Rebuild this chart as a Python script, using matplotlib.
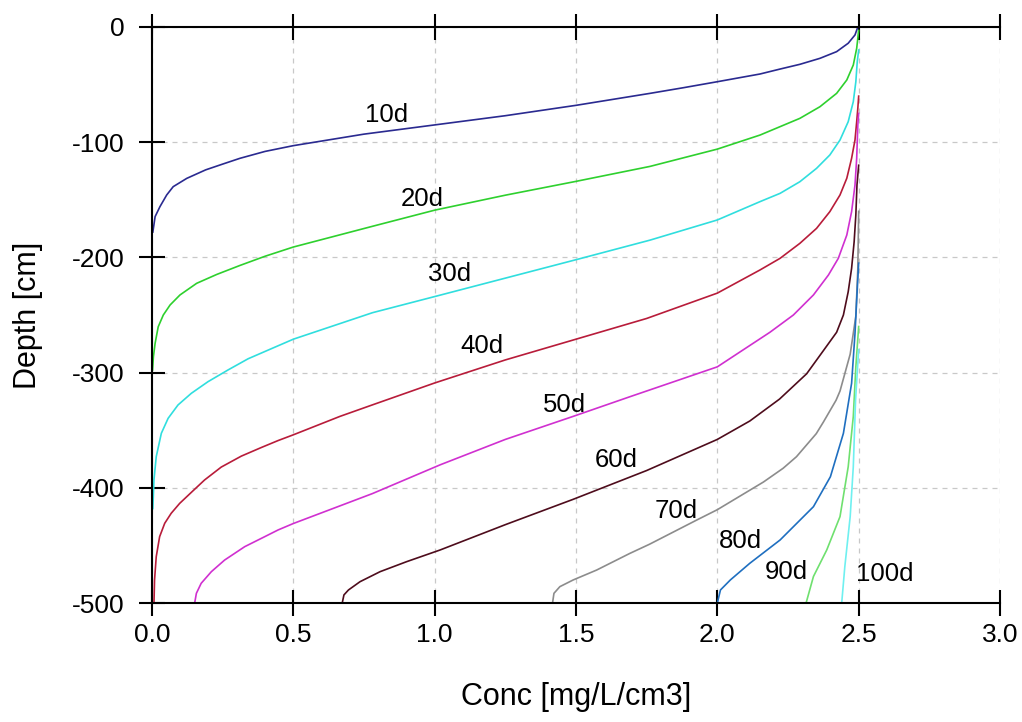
import matplotlib
matplotlib.use("Agg")
import matplotlib.pyplot as plt

plt.rcParams['font.family'] = ['Liberation Sans', 'DejaVu Sans']

# Concentration profiles (conc in mg/L/cm3, depth in cm), listed from the surface downward
conc_10d = [2.497, 2.487, 2.463, 2.422, 2.363, 2.292, 2.222, 2.151, 2.0, 1.88, 1.762, 1.5, 1.25, 1.0,
            0.75, 0.5, 0.4, 0.311, 0.25, 0.19, 0.123, 0.075, 0.052, 0.028, 0.011, 0.003]
depth_10d = [0, -6.9, -14.1, -21.4, -27.2, -32.4, -36.5, -40.8, -47.5, -52.7, -57.6, -68, -77, -85,
             -93, -103, -108, -114, -119, -124, -131.4, -138.6, -145.8, -156, -164.6, -178]

conc_20d = [2.5, 2.497, 2.493, 2.481, 2.458, 2.422, 2.363, 2.292, 2.222, 2.151, 2.0, 1.762, 1.5, 1.25,
            1.0, 0.78, 0.5, 0.4, 0.311, 0.229, 0.158, 0.099, 0.064, 0.04, 0.022, 0.011, 0.005, 0.002]
depth_20d = [-3, -9.8, -18.5, -33, -46, -57.6, -69.2, -79.3, -86.5, -93.8, -106, -121, -134, -146,
             -159, -173, -191, -199, -207, -214.8, -222.5, -232.6, -241.3, -250, -260.2, -274.6, -286.2, -297.7]

conc_30d = [2.5, 2.495, 2.49, 2.481, 2.463, 2.434, 2.398, 2.351, 2.292, 2.222, 2.151, 2.0, 1.762, 1.5,
            1.25, 1.0, 0.78, 0.5, 0.434, 0.34, 0.269, 0.198, 0.139, 0.092, 0.057, 0.033, 0.015, 0.007, 0.003]
depth_30d = [-20, -30.1, -47.5, -64.8, -82.2, -98.1, -111.1, -122.7, -134.3, -144.4, -151.6, -167.5, -185, -202,
             -218, -234, -248, -271, -278, -288, -297.7, -307.9, -318, -328.1, -339.7, -352.7, -373, -393, -418]

conc_40d = [2.5, 2.497, 2.493, 2.487, 2.475, 2.458, 2.434, 2.398, 2.351, 2.292, 2.222, 2.151, 2.0, 1.75,
            1.5, 1.25, 1.0, 0.78, 0.665, 0.5, 0.446, 0.387, 0.316, 0.245, 0.186, 0.139, 0.098, 0.068,
            0.045, 0.027, 0.015, 0.009, 0.007]
depth_40d = [-60, -70.6, -82.2, -98.1, -114, -131.3, -145.8, -160.3, -174.8, -187.8, -200.8, -210.9, -231, -253,
             -271, -289, -309, -328, -338, -354, -359, -365, -372.5, -382, -393.2, -404, -413.5, -422.1,
             -430.8, -442.4, -459.8, -480, -500]

conc_50d = [2.5, 2.497, 2.493, 2.487, 2.475, 2.458, 2.428, 2.393, 2.34, 2.269, 2.186, 2.0, 1.69, 1.49,
            1.25, 1.02, 0.78, 0.5, 0.446, 0.399, 0.328, 0.257, 0.21, 0.174, 0.157, 0.151]
depth_50d = [-75, -85, -114, -137.2, -160.3, -180.6, -200.8, -215.3, -232.6, -250, -265, -295, -321, -338,
             -358, -380, -405, -431, -436.6, -442.4, -451.1, -462.7, -472.8, -482.9, -491.6, -500]

conc_60d = [2.5, 2.494, 2.49, 2.484, 2.475, 2.463, 2.446, 2.422, 2.375, 2.316, 2.22, 2.115, 2.0, 1.75,
            1.49, 1.25, 1.019, 0.901, 0.807, 0.736, 0.695, 0.679, 0.673]
depth_60d = [-120, -137.2, -163.2, -186.4, -209.5, -229.8, -250, -265, -281, -301, -323, -342, -358, -385,
             -410, -432, -454, -464.1, -472.8, -481.5, -488.7, -493, -500]

conc_70d = [2.5, 2.497, 2.49, 2.47, 2.434, 2.42, 2.375, 2.35, 2.28, 2.233, 2.163, 2.0, 1.927, 1.76,
            1.69, 1.573, 1.49, 1.443, 1.422, 1.417]
depth_70d = [-160, -210, -251, -284, -316, -324, -343, -353, -373, -383, -395, -419, -428, -449,
             -457, -471.4, -480, -485.8, -491.6, -500]

conc_80d = [2.5, 2.493, 2.487, 2.475, 2.446, 2.4, 2.34, 2.222, 2.115, 2.046, 2.011, 2.0]
depth_80d = [-205, -237, -266, -309.3, -352.7, -390.4, -416.4, -445.3, -465.5, -480, -488.7, -500]

conc_90d = [2.5, 2.49, 2.481, 2.463, 2.434, 2.387, 2.34, 2.314]
depth_90d = [-260, -295, -338, -381.7, -425, -454, -477, -500]

conc_100d = [2.5, 2.489, 2.481, 2.47, 2.451, 2.44]
depth_100d = [-280, -323.8, -381.7, -425, -468.5, -500]

day_labels = ["10d", "20d", "30d", "40d", "50d", "60d", "70d", "80d", "90d", "100d"]
label_conc = [0.83, 0.955, 1.052, 1.166, 1.461, 1.644, 1.853, 2.082, 2.245, 2.593]
label_depth = [-76, -149, -214, -277, -328, -376, -420, -446, -473, -475]

profiles = [
    (conc_10d, depth_10d, "#2a2a90"),
    (conc_20d, depth_20d, "#2ed02e"),
    (conc_30d, depth_30d, "#30dede"),
    (conc_40d, depth_40d, "#b81c3a"),
    (conc_50d, depth_50d, "#d030d0"),
    (conc_60d, depth_60d, "#4e0c1c"),
    (conc_70d, depth_70d, "#8c8c8c"),
    (conc_80d, depth_80d, "#1f6fc0"),
    (conc_90d, depth_90d, "#6fe06f"),
    (conc_100d, depth_100d, "#6ff0f0"),
]

fig = plt.figure(figsize=(10.22, 7.22), dpi=100)
ax = fig.add_axes([152 / 1022, 1 - 603 / 722, 848 / 1022, 576 / 722])

for conc, depth, color in profiles:
    ax.plot(conc, depth, color=color, linewidth=1.2, solid_joinstyle="round", zorder=3)

for text, x, y in zip(day_labels, label_conc, label_depth):
    ax.text(x, y, text, fontsize=18.5, ha="center", va="center", color="black", zorder=4)

ax.set_xlim(0, 3.0)
ax.set_ylim(-500, 0)
ax.set_xticks([0.0, 0.5, 1.0, 1.5, 2.0, 2.5, 3.0])
ax.set_xticklabels(["0.0", "0.5", "1.0", "1.5", "2.0", "2.5", "3.0"])
ax.set_yticks([0, -100, -200, -300, -400, -500])
ax.set_yticklabels(["0", "-100", "-200", "-300", "-400", "-500"])

ax.grid(True, color="#c8c8c8", linestyle=(0, (4, 4)), linewidth=0.9, zorder=1)
ax.spines["right"].set_visible(False)
for side in ("left", "top", "bottom"):
    ax.spines[side].set_linewidth(1.5)
    ax.spines[side].set_zorder(5)

ax.tick_params(axis="both", direction="inout", length=19, width=1.5, labelsize=19)
ax.tick_params(axis="x", top=True, labeltop=False, pad=5)
ax.tick_params(axis="y", right=False, pad=10)

ax.set_xlabel("Conc [mg/L/cm3]", fontsize=22, labelpad=25)
ax.set_ylabel("Depth [cm]", fontsize=22, labelpad=21)

fig.savefig("out.png", dpi=100)
